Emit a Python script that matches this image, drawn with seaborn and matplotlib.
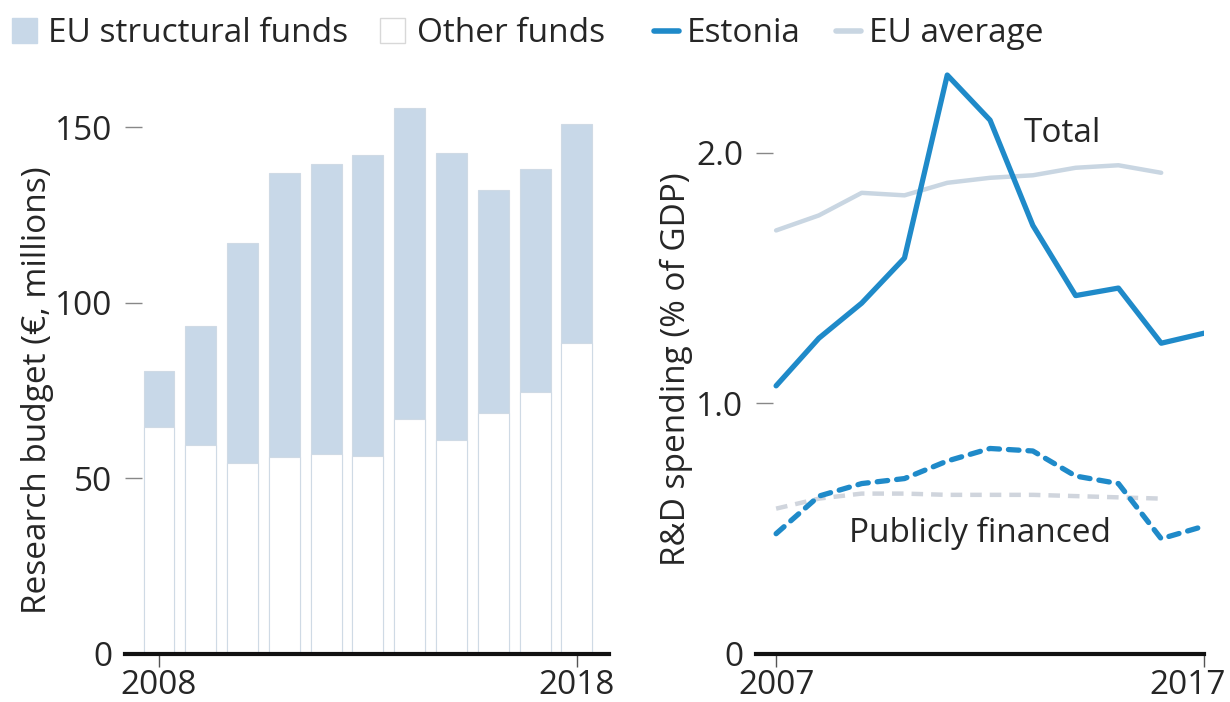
import numpy as np
import pandas as pd
import matplotlib
matplotlib.use("Agg")
import matplotlib.pyplot as plt
import matplotlib.transforms as mtransforms
import seaborn as sns
from matplotlib.patches import Patch
from matplotlib.lines import Line2D

# Research budget, left panel (EUR millions)
budget_years = [2008, 2009, 2010, 2011, 2012, 2013, 2014, 2015, 2016, 2017, 2018]
budget_total = [80.5, 93.5, 117, 137, 139.5, 142, 155.5, 142.5, 132, 138, 151]
other_funds = [64.5, 59.5, 54.5, 56, 57, 56.5, 67, 61, 68.5, 74.5, 88.5]

# R&D spending, right panel (% of GDP)
rd_years = [2007, 2008, 2009, 2010, 2011, 2012, 2013, 2014, 2015, 2016, 2017]
estonia_total = [1.07, 1.26, 1.40, 1.58, 2.31, 2.13, 1.71, 1.43, 1.46, 1.24, 1.28]
eu_total = [1.69, 1.75, 1.84, 1.83, 1.88, 1.90, 1.91, 1.94, 1.95, 1.92]
estonia_public = [0.48, 0.63, 0.68, 0.70, 0.77, 0.82, 0.81, 0.71, 0.68, 0.46, 0.51]
eu_public = [0.58, 0.62, 0.64, 0.64, 0.635, 0.635, 0.635, 0.63, 0.625, 0.62]

BAR_BLUE = "#c8d8e8"
EDGE = "#cfdae5"
ESTONIA = "#1f8ac9"
EU_LINE = "#c9d6e2"
EU_DASH = "#d0d5dd"
TXT = "#262626"
FS = 24

sns.set_theme(style="white")
plt.rcParams["font.family"] = ["Open Sans", "DejaVu Sans"]
plt.rcParams["text.color"] = TXT

fig = plt.figure(figsize=(12.3, 7.02), dpi=100)
ax1 = fig.add_axes([124.5 / 1230, 48 / 702, 484.5 / 1230, 562 / 702])
ax2 = fig.add_axes([756 / 1230, 48 / 702, 448 / 1230, 594 / 702])

# ---- left: stacked bars
bdf = pd.DataFrame({"year": budget_years, "total": budget_total, "other": other_funds})
sns.barplot(data=bdf, x="year", y="total", ax=ax1, color=BAR_BLUE, width=0.74,
            saturation=1, edgecolor=EDGE, linewidth=0.8)
sns.barplot(data=bdf, x="year", y="other", ax=ax1, color="white", width=0.74,
            saturation=1, edgecolor=EDGE, linewidth=0.8)
ax1.set_xlim(-0.825, 10.77)
ax1.set_ylim(0, 160)
ax1.set_xticks([0, 10])
ax1.set_xticklabels(["2008", "2018"])
ax1.set_yticks([0, 50, 100, 150])
ax1.set_yticklabels(["0", "50", "100", "150"])
ax1.set_xlabel("")
ax1.set_ylabel("Research budget (€, millions)", fontsize=FS, color=TXT)
ax1.yaxis.set_label_coords(-0.146, 0.47)

# ---- right: lines
edf = pd.DataFrame({"year": rd_years, "total": estonia_total, "public": estonia_public})
udf = pd.DataFrame({"year": rd_years[:10], "total": eu_total, "public": eu_public})
sns.lineplot(data=udf, x="year", y="total", ax=ax2, color=EU_LINE, lw=3.2)
sns.lineplot(data=udf, x="year", y="public", ax=ax2, color=EU_DASH, lw=3.2,
             linestyle=(0, (2.6, 1.8)))
sns.lineplot(data=edf, x="year", y="total", ax=ax2, color=ESTONIA, lw=3.8)
sns.lineplot(data=edf, x="year", y="public", ax=ax2, color=ESTONIA, lw=3.8,
             linestyle=(0, (2.0, 1.7)), dash_capstyle="round")
ax2.set_xlim(2006.53, 2017.0)
ax2.set_ylim(0, 2.37)
ax2.set_xticks([2007, 2017])
ax2.set_xticklabels(["2007", "2017"])
ax2.set_yticks([0, 1.0, 2.0])
ax2.set_yticklabels(["0", "1.0", "2.0"])
ax2.set_xlabel("")
ax2.set_ylabel("R&D spending (% of GDP)", fontsize=FS, color=TXT)
ax2.yaxis.set_label_coords(-0.14, 0.48)
ax2.text(2012.78, 2.075, "Total", fontsize=FS, color=TXT, ha="left", va="center")
ax2.text(2011.76, 0.48, "Publicly financed", fontsize=FS, color=TXT,
         ha="center", va="center")

for ax in (ax1, ax2):
    for s in ("top", "right", "left"):
        ax.spines[s].set_visible(False)
    ax.spines["bottom"].set_color("#111111")
    ax.spines["bottom"].set_linewidth(3)
    ax.spines["bottom"].set_zorder(5)
    ax.tick_params(axis="y", direction="in", length=12, width=1, color="#888888",
                   labelsize=FS, labelcolor=TXT, pad=9, left=True)
    ax.tick_params(axis="x", direction="out", length=9, width=1, color="#555555",
                   labelsize=FS, labelcolor=TXT, pad=1.5, bottom=True)
    ax.set_facecolor("none")
    ax.grid(False)

# the last year label sits a little left of its tick, as in the original
last = ax2.get_xticklabels()[-1]
last.set_transform(last.get_transform() +
                   mtransforms.ScaledTranslation(-0.16, 0, fig.dpi_scale_trans))

# legends
h1 = [Patch(facecolor=BAR_BLUE, edgecolor=BAR_BLUE),
      Patch(facecolor="white", edgecolor="#d8d8d8")]
fig.legend(h1, ["EU structural funds", "Other funds"], loc="center left",
           bbox_to_anchor=(0.0095, 0.952), ncol=2, frameon=False, fontsize=FS,
           handlelength=0.75, handleheight=0.75, handletextpad=0.35, columnspacing=0.95,
           borderaxespad=0, borderpad=0)
h2 = [Line2D([], [], color=ESTONIA, lw=4), Line2D([], [], color=EU_LINE, lw=4)]
fig.legend(h2, ["Estonia", "EU average"], loc="center left",
           bbox_to_anchor=(0.5315, 0.952), ncol=2, frameon=False, fontsize=FS,
           handlelength=0.75, handletextpad=0.25, columnspacing=1.05,
           borderaxespad=0, borderpad=0)

fig.savefig("out.png", dpi=100)
